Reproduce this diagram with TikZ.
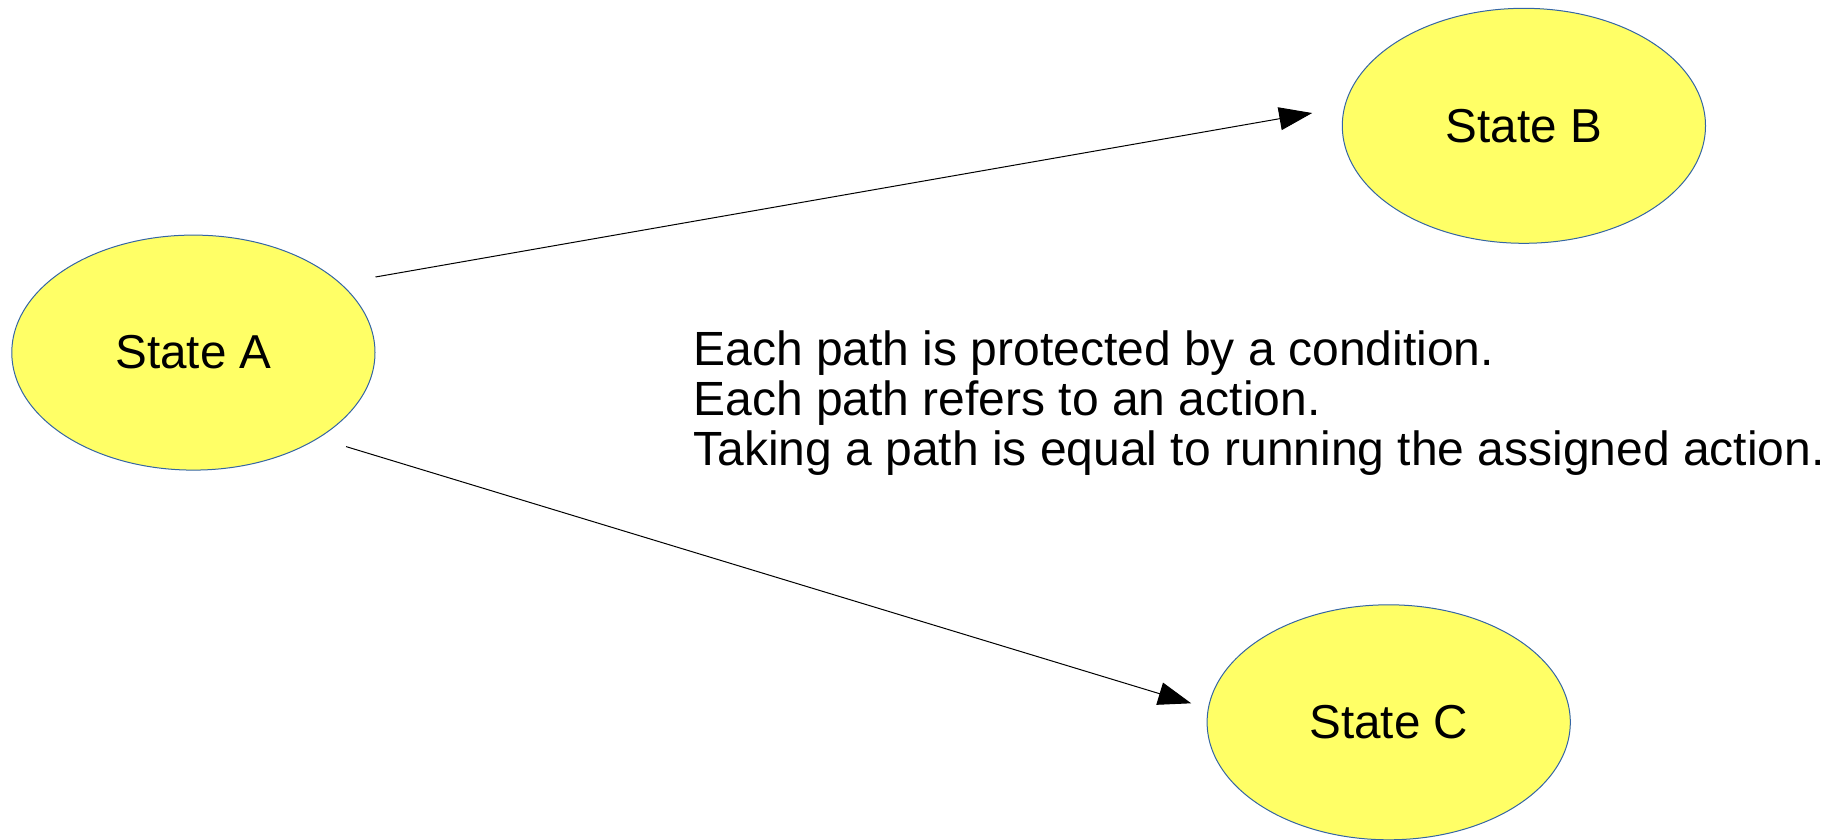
\documentclass[tikz,border=0pt]{standalone}
\usepackage{fontspec}
\setmainfont{Liberation Sans}
\usetikzlibrary{calc,arrows.meta,shapes.geometric}
\definecolor{stfill}{HTML}{FFFF66}
\definecolor{stline}{HTML}{3465A4}
\tikzset{
  statenode/.style={ellipse, draw=stline, line width=0.5pt, fill=stfill,
    minimum width=181.6pt, minimum height=117.5pt, inner sep=0pt,
    font=\fontsize{23.8}{26}\selectfont},
  arr/.style={line width=0.5pt, -{Triangle[length=16.5pt,width=11.5pt]}},
}
\begin{document}
\begin{tikzpicture}[x=0.5pt,y=-0.5pt]
\useasboundingbox (0,0) rectangle (1843,840);
\node[statenode] (A) at (193.4,352.6) {State A};
\node[statenode] (B) at (1523.9,125.8) {State B};
\node[statenode] (C) at (1388.7,722.3) {State C};
\node[anchor=base west, inner sep=0pt, align=left,
  font=\fontsize{24}{25}\selectfont] (T) at (693,465)
  {Each path is protected by a condition.\\
   Each path refers to an action.\\
   Taking a path is equal to running the assigned action.};
\draw[arr] ($(A.east)+(0,-75.6)$) -- ($(B.west)+(-29.6,-12.8)$);
\draw[arr] ($(A.east)+(-29.4,94)$) -- ($(C.west)+(-15.4,-19)$);
\end{tikzpicture}
\end{document}
